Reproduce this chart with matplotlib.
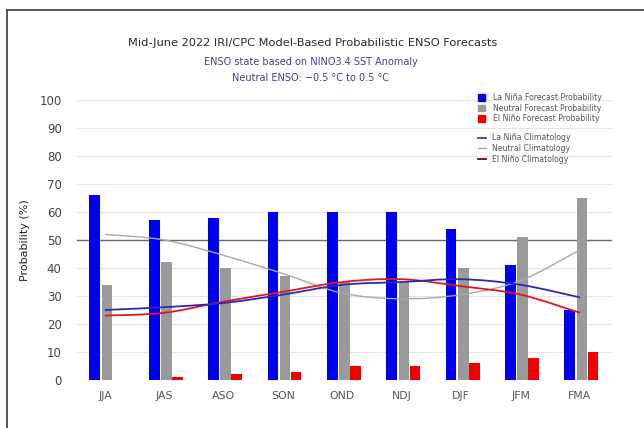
import numpy as np
import matplotlib
matplotlib.use("Agg")
import matplotlib.pyplot as plt
from matplotlib.path import Path
from matplotlib.patches import PathPatch, Patch
from matplotlib.lines import Line2D

plt.rcParams['font.family'] = ['DejaVu Sans']

seasons = ["JJA", "JAS", "ASO", "SON", "OND", "NDJ", "DJF", "JFM", "FMA"]

# Forecast probabilities (%)
la_nina_prob = [66, 57, 58, 60, 60, 60, 54, 41, 25]
neutral_prob = [34, 42, 40, 37, 35, 35, 40, 51, 65]
el_nino_prob = [0, 1, 2, 3, 5, 5, 6, 8, 10]

# Climatological probabilities (%)
la_nina_clim = [25, 26, 27.5, 30.5, 34, 35, 36, 34, 29.5]
neutral_clim = [52, 50, 44.5, 38, 31, 29, 30.5, 35.5, 46.5]
el_nino_clim = [23, 24, 28, 31.5, 35, 36, 33.5, 30.5, 24]

y_ticks = list(range(0, 101, 10))

W, H = 644, 428
fig = plt.figure(figsize=(W / 100, H / 100), dpi=100)
ax = fig.add_axes([77 / W, (H - 380) / H, (612 - 77) / W, 280 / H])

x = np.arange(len(seasons))
bw = 0.18
ax.bar(x - 0.17, la_nina_prob, bw, color="#0000f0", zorder=3)
ax.bar(x + 0.035, neutral_prob, bw, color="#9a9a9a", zorder=3)
ax.bar(x + 0.22, el_nino_prob, bw, color="#f00000", zorder=3)


def smooth_path(xs, ys):
    """Cubic Bezier spline through the given points."""
    pts = np.column_stack([xs, ys]).astype(float)
    n = len(pts)
    verts = [pts[0]]
    codes = [Path.MOVETO]
    for i in range(n - 1):
        p0 = pts[i - 1] if i > 0 else pts[i]
        p1 = pts[i]
        p2 = pts[i + 1]
        p3 = pts[i + 2] if i + 2 < n else pts[i + 1]
        c1 = p1 + (p2 - p0) / 6.0
        c2 = p2 - (p3 - p1) / 6.0
        verts += [c1, c2, p2]
        codes += [Path.CURVE4] * 3
    return Path(verts, codes)


for vals, col, lw in [(neutral_clim, "#a8a8a8", 1.0),
                      (el_nino_clim, "#e01818", 1.3),
                      (la_nina_clim, "#2a2ab0", 1.3)]:
    ax.add_patch(PathPatch(smooth_path(x, vals), fill=False, edgecolor=col,
                           lw=lw, zorder=4))

ax.set_xlim(-0.47, 8.54)
ax.set_ylim(0, 100)
ax.set_yticks(y_ticks)
ax.set_yticklabels([str(t) for t in y_ticks], fontsize=8.5, color="#444444")
ax.set_xticks(x)
ax.set_xticklabels(seasons, fontsize=7.8, color="#555555")
ax.tick_params(axis="y", length=0, pad=11)
ax.tick_params(axis="x", length=0, pad=8)
for s in ax.spines.values():
    s.set_visible(False)
for t in y_ticks:
    ax.axhline(t, color="#e4e4e4", lw=0.8, zorder=1)
ax.axhline(50, color="#6a6a6a", lw=1.0, zorder=2)
ax.set_ylabel("Probability (%)", fontsize=8, color="#222222", labelpad=7)

# Titles
fig.text(313 / W, 1 - 43 / H, "Mid-June 2022 IRI/CPC Model-Based Probabilistic ENSO Forecasts",
         ha="center", va="center", fontsize=8.2, color="#2a2a2a")
fig.text(311 / W, 1 - 62 / H, "ENSO state based on NINO3.4 SST Anomaly",
         ha="center", va="center", fontsize=7, color="#4a3d90")
fig.text(311 / W, 1 - 78 / H, "Neutral ENSO: \u22120.5 \u00b0C to 0.5 \u00b0C",
         ha="center", va="center", fontsize=7, color="#4a3d90")

# Legends
bar_handles = [Patch(color="#0000f0"), Patch(color="#9a9a9a"), Patch(color="#f00000")]
bar_labels = ["La Ni\u00f1a Forecast Probability", "Neutral Forecast Probability",
              "El Ni\u00f1o Forecast Probability"]
leg1 = fig.legend(bar_handles, bar_labels, loc="upper left",
                  bbox_to_anchor=(478 / W, 1 - 93 / H), frameon=False,
                  fontsize=5.6, labelcolor="#555555", handlelength=0.9,
                  handleheight=0.9, handletextpad=1.0, labelspacing=0.2,
                  borderpad=0, borderaxespad=0)
line_handles = [Line2D([], [], color="#3a3a9a", lw=1.3),
                Line2D([], [], color="#a8a8a8", lw=1.0),
                Line2D([], [], color="#5a1010", lw=1.3)]
line_labels = ["La Ni\u00f1a Climatology", "Neutral Climatology", "El Ni\u00f1o Climatology"]
leg2 = fig.legend(line_handles, line_labels, loc="upper left",
                  bbox_to_anchor=(478 / W, 1 - 133.5 / H), frameon=False,
                  fontsize=5.6, labelcolor="#555555", handlelength=1.0,
                  handletextpad=0.8, labelspacing=0.2,
                  borderpad=0, borderaxespad=0)

# Frame on the left and top of the figure
fig.add_artist(Line2D([7 / W, 7 / W], [0, 1 - 10 / H], transform=fig.transFigure,
                      color="#3a3a3a", lw=1.2))
fig.add_artist(Line2D([7 / W, 1], [1 - 10 / H, 1 - 10 / H], transform=fig.transFigure,
                      color="#3a3a3a", lw=1.2))

fig.savefig("out.png", dpi=100, facecolor="white")
